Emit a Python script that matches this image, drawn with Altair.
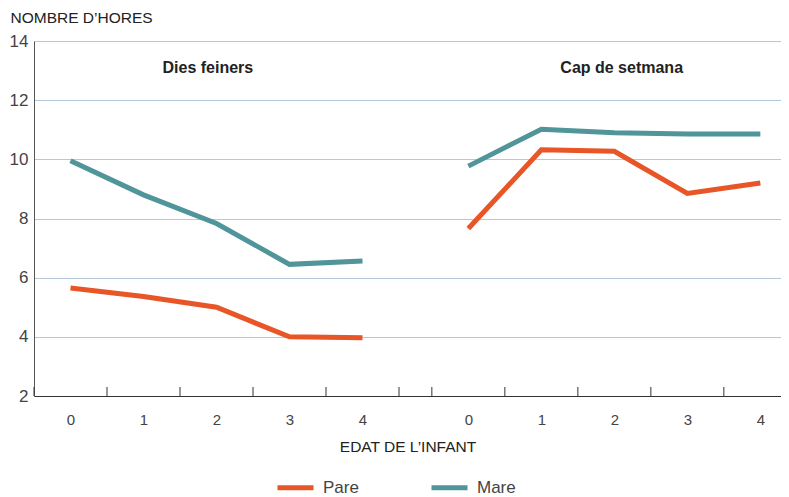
import altair as alt
import pandas as pd

# ---- data ----
ages = [0, 1, 2, 3, 4]
age_labels = ["0", "1", "2", "3", "4"]
pare_feiners = [5.65, 5.36, 5.00, 4.00, 3.97]
mare_feiners = [9.95, 8.80, 7.83, 6.45, 6.56]
pare_cap = [7.66, 10.32, 10.27, 8.85, 9.20]
mare_cap = [9.77, 11.02, 10.90, 10.86, 10.86]
periods = ["Dies feiners", "Cap de setmana"]
series = ["Pare", "Mare"]
colors = ["#e85526", "#4f9599"]

# x layout: weekday ages at 0..4, weekend ages shifted by an offset (gap between groups)
offset = {"Dies feiners": 0.0, "Cap de setmana": 5.45}
tick_pos = [-0.5, 0.5, 1.5, 2.5, 3.5, 4.5, 4.95, 5.95, 6.95, 7.95, 8.95]

rows = []
vals = {("Dies feiners", "Pare"): pare_feiners, ("Dies feiners", "Mare"): mare_feiners,
        ("Cap de setmana", "Pare"): pare_cap, ("Cap de setmana", "Mare"): mare_cap}
for (p, s), v in vals.items():
    for a, y in zip(ages, v):
        rows.append({"period": p, "serie": s, "pos": a + offset[p], "age": a, "hores": y})
df = pd.DataFrame(rows)

titles = pd.DataFrame({"period": periods,
                       "pos": [1.26 + offset[p] for p in periods],
                       "y": [13.1, 13.1]})
ticks = pd.DataFrame({"pos": tick_pos})

FONT = "Liberation Sans"
W, H = 747, 355
xscale = alt.Scale(domain=[-0.5, -0.5 + W / 73], nice=False, zero=False)
yscale = alt.Scale(domain=[2, 14], nice=False, zero=False)
centres = [a + offset[p] for p in periods for a in ages]

lines = alt.Chart(df).mark_line(strokeWidth=5, strokeCap="butt").encode(
    x=alt.X("pos:Q", scale=xscale,
            axis=alt.Axis(values=centres, title="EDAT DE L\u2019INFANT", grid=False, ticks=False,
                          labelExpr="datum.value < 5 ? format(datum.value, '.0f') : format(datum.value - 5.45, '.0f')",
                          labelPadding=16, labelFontSize=15, labelColor="#444",
                          titleFontSize=15.5, titleFontWeight="normal", titleColor="#222",
                          titlePadding=12, domainColor="#333")),
    y=alt.Y("hores:Q", scale=yscale,
            axis=alt.Axis(values=[2, 4, 6, 8, 10, 12, 14], title="NOMBRE D\u2019HORES",
                          ticks=False, gridColor="#b4cadc", gridWidth=1,
                          labelFontSize=17, labelColor="#444", labelPadding=6,
                          titleAngle=0, titleAlign="left", titleBaseline="alphabetic",
                          titleX=-24, titleY=-19, titleFontSize=15.5,
                          titleFontWeight="normal", titleColor="#222", domainColor="#555")),
    color=alt.Color("serie:N", scale=alt.Scale(domain=series, range=colors),
                    legend=alt.Legend(title=None, orient="none", legendX=241, legendY=426,
                                      direction="horizontal", symbolType="stroke",
                                      symbolStrokeWidth=5, symbolSize=1296,
                                      labelFontSize=17, labelColor="#444", labelOffset=7,
                                      columnPadding=62, padding=0)),
    detail="period:N",
)

tickmarks = alt.Chart(ticks).mark_rule(color="#333", strokeWidth=1).encode(
    x=alt.X("pos:Q", scale=xscale),
    y=alt.value(H - 9),
    y2=alt.value(H),
)

labels = alt.Chart(titles).mark_text(fontWeight="bold", fontSize=16, color="#222", font=FONT,
                                     align="left").encode(
    x=alt.X("pos:Q", scale=xscale),
    y=alt.Y("y:Q", scale=yscale),
    text="period:N",
)

chart = alt.layer(lines, tickmarks, labels).properties(
    width=W, height=H,
    autosize=alt.AutoSizeParams(type="none"),
    padding={"left": 26, "top": 33, "right": 0, "bottom": 100},
).configure(font=FONT).configure_view(stroke=None)

chart.save("out.html", embed_options={"renderer": "svg", "actions": False})
